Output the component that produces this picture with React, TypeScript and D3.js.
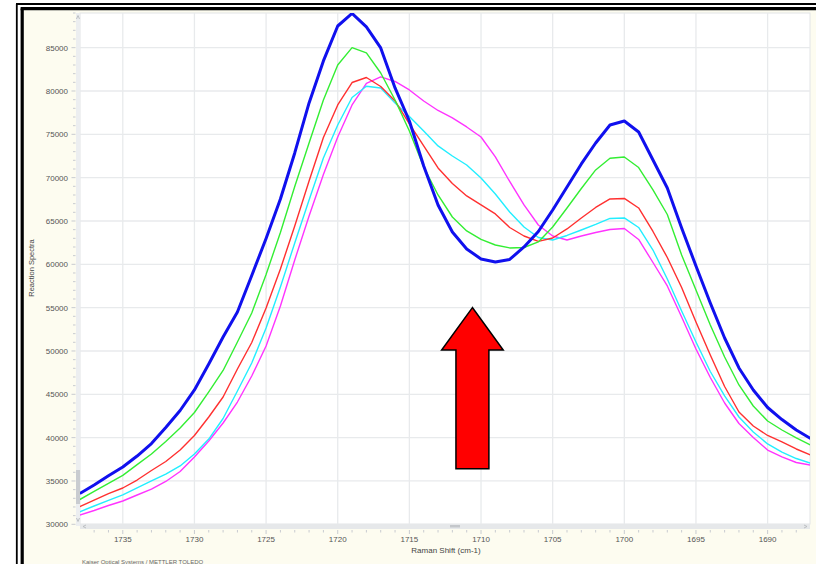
import React from "react";
import * as d3 from "d3";

// Raman shift (cm-1) of every sample
const shifts = [
  1738, 1737, 1736, 1735, 1734, 1733, 1732, 1731, 1730, 1729, 1728, 1727, 1726,
  1725, 1724, 1723, 1722, 1721, 1720, 1719, 1718, 1717, 1716, 1715, 1714, 1713,
  1712, 1711, 1710, 1709, 1708, 1707, 1706, 1705, 1704, 1703, 1702, 1701, 1700,
  1699, 1698, 1697, 1696, 1695, 1694, 1693, 1692, 1691, 1690, 1689, 1688, 1687,
];

const blueSeries = [
  33550, 34540, 35600, 36610, 37880, 39320, 41170, 43130, 45500, 48500, 51610, 54500, 58710,
  62980, 67540, 72850, 78620, 83470, 87500, 88950, 87390, 84970, 80350, 76540, 71350, 66850,
  63730, 61770, 60620, 60270, 60560, 62000, 63790, 66270, 68920, 71580, 74000, 76080, 76540,
  75270, 72040, 68810, 64190, 59810, 55540, 51500, 48040, 45500, 43480, 42090, 40880, 39900,
];
const greenSeries = [
  32860, 33790, 34710, 35650, 36890, 38110, 39550, 41110, 42900, 45270, 47750, 51040, 54380,
  58830, 63670, 68980, 74000, 78960, 83000, 85000, 84400, 82080, 78960, 75390, 71230, 68000,
  65460, 63850, 62870, 62230, 61890, 61940, 62580, 64310, 66500, 68750, 70890, 72240, 72390,
  71170, 68580, 65750, 61080, 57040, 53000, 49310, 46080, 43650, 41920, 40880, 39960, 39150,
];
const redSeries = [
  32030, 32800, 33550, 34190, 35110, 36210, 37250, 38570, 40250, 42380, 44690, 47920, 50980,
  54960, 59460, 64420, 69620, 74640, 78390, 80980, 81560, 80520, 78850, 76200, 73660, 71120,
  69330, 67890, 66850, 65810, 64250, 63270, 62640, 63040, 64080, 65350, 66560, 67540, 67600,
  66500, 63790, 60790, 57330, 53350, 49540, 45900, 42960, 41340, 40250, 39500, 38690, 38000,
];
const cyanSeries = [
  31450, 32110, 32750, 33400, 34190, 35000, 35800, 36730, 38110, 39840, 42210, 45380, 48610,
  52650, 57380, 62460, 67420, 72270, 76080, 79250, 80550, 80350, 78620, 77060, 75390, 73660,
  72500, 71460, 69960, 68120, 66040, 64310, 63100, 62810, 63330, 63960, 64600, 65290, 65350,
  64250, 61650, 58310, 54620, 51040, 47630, 44810, 42380, 40650, 39270, 38340, 37590, 37040,
];
const magentaSeries = [
  31070, 31590, 32170, 32690, 33380, 34070, 34940, 36090, 37770, 39610, 41690, 44110, 47110,
  50580, 55190, 60500, 65580, 70370, 74690, 78390, 80870, 81620, 81100, 80120, 78850, 77750,
  76890, 75850, 74690, 72390, 69560, 66850, 64540, 63270, 62810, 63270, 63670, 64020, 64140,
  62870, 60210, 57500, 53920, 50230, 46940, 44000, 41630, 40020, 38570, 37770, 37130, 36840,
];

const yTicks = [30000, 35000, 40000, 45000, 50000, 55000, 60000, 65000, 70000, 75000, 80000, 85000];
const xTicks = [1735, 1730, 1725, 1720, 1715, 1710, 1705, 1700, 1695, 1690];

// arrow annotation in data units: tip, head base, shaft bottom
const arrowAt = { shift: 1710.6, tip: 55000, headBase: 50100, bottom: 36400, headHalf: 2.15, shaftHalf: 1.15 };

const series = [
  { name: "magenta", values: magentaSeries, color: "#ff33ff", width: 1.4 },
  { name: "cyan", values: cyanSeries, color: "#22eeff", width: 1.4 },
  { name: "red", values: redSeries, color: "#ff3030", width: 1.4 },
  { name: "green", values: greenSeries, color: "#33ee33", width: 1.4 },
  { name: "blue", values: blueSeries, color: "#1010ee", width: 3 },
];

const font = "'Liberation Sans', Arial, sans-serif";

export default function App() {
  const left = 80, right = 810, top = 13, bottom = 524;

  const x = d3.scaleLinear().domain([1738, 1687]).range([79.8, 810.6]);
  const y = d3.scaleLinear().domain([30000, 89000]).range([524.3, 13]);

  const line = d3.line<number>()
    .x((_, i) => x(shifts[i]))
    .y((d) => y(d));

  const minorY = d3.range(30000, 89001, 1000);
  const minorX = d3.range(1687, 1739, 1);

  const a = arrowAt;
  const arrowPts = [
    [a.shift, a.tip],
    [a.shift + a.headHalf, a.headBase],
    [a.shift + a.shaftHalf, a.headBase],
    [a.shift + a.shaftHalf, a.bottom],
    [a.shift - a.shaftHalf, a.bottom],
    [a.shift - a.shaftHalf, a.headBase],
    [a.shift - a.headHalf, a.headBase],
  ].map(([s, v]) => `${x(s)},${y(v)}`).join(" ");

  return (
    <div style={{ position: "absolute", left: 0, top: 0 }}>
      <svg width={816} height={564} style={{ display: "block" }}>
        <rect width={816} height={564} fill="#ffffff" />
        {/* double frame */}
        <rect x={24} y={10} width={792} height={554} fill="#fdfcf0" />
        <line x1={16.8} y1={4} x2={16.8} y2={564} stroke="#000" strokeWidth={1.8} />
        <line x1={16} y1={4} x2={816} y2={4} stroke="#000" strokeWidth={1.8} />
        <line x1={22.2} y1={8.6} x2={22.2} y2={564} stroke="#000" strokeWidth={3.2} />
        <line x1={20.6} y1={8.6} x2={816} y2={8.6} stroke="#000" strokeWidth={3.2} />

        {/* plot background */}
        <rect x={left} y={top} width={right - left} height={bottom - top} fill="#ffffff" stroke="#e2e4e6" />

        {/* grid */}
        {yTicks.filter((t) => t > 30000).map((t) => (
          <line key={"gy" + t} x1={left} x2={right} y1={y(t)} y2={y(t)} stroke="#e8eaec" strokeWidth={1.3} />
        ))}
        {xTicks.map((t) => (
          <line key={"gx" + t} x1={x(t)} x2={x(t)} y1={top} y2={bottom} stroke="#e8eaec" strokeWidth={1.3} />
        ))}

        {/* vertical scrollbar */}
        <rect x={76} y={top} width={4} height={bottom - top + 2} fill="#eceef0" />
        <rect x={76} y={470} width={4} height={34} fill="#c9ccd0" />
        <path d="M76.5,19 L78,15.5 L79.5,19" fill="none" stroke="#b0b4b8" strokeWidth={0.8} />
        <path d="M76.5,518 L78,521.5 L79.5,518" fill="none" stroke="#b0b4b8" strokeWidth={0.8} />

        {/* horizontal scrollbar */}
        <rect x={left} y={bottom} width={right - left} height={5} fill="#e6e8ea" />
        <rect x={450} y={525} width={10} height={2.5} fill="#c4c7cb" />
        <path d="M86,525 L83,526.5 L86,528" fill="none" stroke="#b0b4b8" strokeWidth={0.8} />
        <path d="M804,525 L807,526.5 L804,528" fill="none" stroke="#b0b4b8" strokeWidth={0.8} />

        {/* series */}
        <defs>
          <clipPath id="plotClip">
            <rect x={left} y={top} width={right - left} height={bottom - top} />
          </clipPath>
        </defs>
        <g clipPath="url(#plotClip)">
          {series.map((s) => (
            <path key={s.name} d={line(s.values) || ""} fill="none" stroke={s.color}
              strokeWidth={s.width} strokeLinejoin="round" />
          ))}
        </g>

        {/* y axis ticks */}
        {minorY.map((t) => (
          <line key={"my" + t} x1={t % 5000 === 0 ? 71.5 : 73} x2={75.5} y1={y(t)} y2={y(t)}
            stroke="#c8cbd0" strokeWidth={1} />
        ))}
        {yTicks.map((t) => (
          <text key={"ly" + t} x={68} y={y(t) + 3} textAnchor="end" fontFamily={font} fontSize={8}
            fill="#555">{t}</text>
        ))}

        {/* x axis ticks */}
        {minorX.filter((t) => x(t) >= left && x(t) <= right).map((t) => (
          <line key={"mx" + t} x1={x(t)} x2={x(t)} y1={530} y2={t % 5 === 0 ? 534 : 532.5}
            stroke="#c8cbd0" strokeWidth={1} />
        ))}
        {xTicks.map((t) => (
          <text key={"lx" + t} x={x(t)} y={542} textAnchor="middle" fontFamily={font} fontSize={8}
            fill="#555">{t}</text>
        ))}

        <text x={446} y={553} textAnchor="middle" fontFamily={font} fontSize={8} fill="#444">
          Raman Shift (cm-1)
        </text>
        <text transform="translate(34,268) rotate(-90)" textAnchor="middle" fontFamily={font}
          fontSize={7.5} fill="#444">Reaction Spectra</text>
        <text x={82} y={564} fontFamily={font} fontSize={6} fill="#666">
          Kaiser Optical Systems / METTLER TOLEDO
        </text>

        {/* annotation arrow */}
        <polygon points={arrowPts} fill="#ff0000" stroke="#000" strokeWidth={1.5} strokeLinejoin="miter" />
      </svg>
    </div>
  );
}
